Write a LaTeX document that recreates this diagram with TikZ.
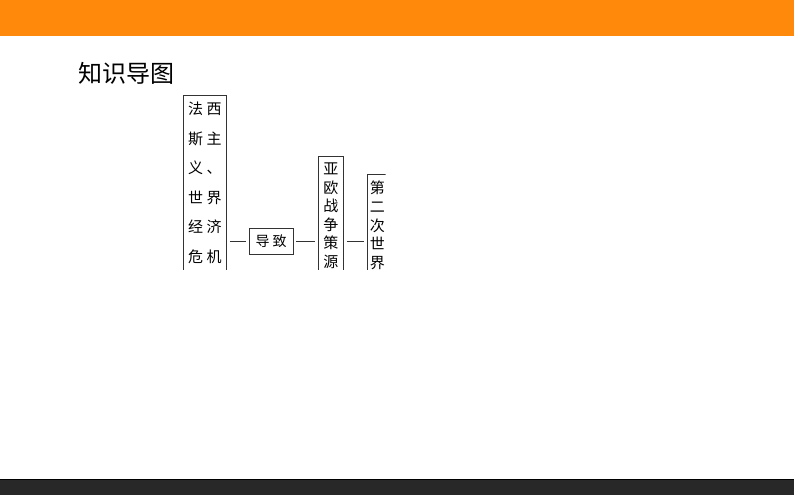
\documentclass[tikz,border=0pt]{standalone}
\usepackage{fontspec}
\newfontfamily\cjk{Noto Sans CJK SC}
\newfontfamily\cjkbox{Noto Sans CJK SC}
\definecolor{barorange}{RGB}{255,137,10}
\definecolor{bardark}{RGB}{40,40,40}
\tikzset{
    mapbox/.style={draw=black!80, line width=0.8pt, inner ysep=6.5pt, inner xsep=0pt,
        align=center, anchor=north west, text depth=150pt},
    link/.style={draw=black!80, line width=0.8pt, shorten <=3pt, shorten >=3pt}
}
\begin{document}
\begin{tikzpicture}[x=1pt, y=-1pt]
    \useasboundingbox (0,0) rectangle (794,495);
    % Top and bottom bars
    \fill[barorange] (0,0) rectangle (794,36);
    \fill[bardark] (0,479) rectangle (794,495);
    \draw[black, line width=0.8pt] (0,479.4) -- (794,479.4);

    % Title
    \node[anchor=base west, inner sep=0pt, font=\cjk\fontsize{24}{24}\selectfont] (title) at (78,82) {知识导图};

    % Boxes (cut off at the bottom of the map)
    \begin{scope}
        \clip (0,90) rectangle (385.5,269);
        \node[mapbox, minimum width=43pt, font=\cjkbox\fontsize{15}{29.5}\selectfont] (crisis) at (183,95)
            {法\kern3.5pt 西\\斯\kern3.5pt 主\\义\kern3.5pt 、\\世\kern3.5pt 界\\经\kern3.5pt 济\\危\kern3.5pt 机};
        \node[draw=black!80, line width=0.8pt, minimum width=44pt, minimum height=26pt, inner sep=0pt,
            font=\cjkbox\fontsize{14}{14}\selectfont] (lead) at (271,241) {导\kern3pt 致};
        \node[mapbox, minimum width=25pt, font=\cjkbox\fontsize{15}{18.5}\selectfont] (source) at (318,156)
            {亚\\欧\\战\\争\\策\\源};
        \node[mapbox, minimum width=20pt, font=\cjkbox\fontsize{15}{18.8}\selectfont] (war) at (367,174)
            {第\\二\\次\\世\\界};

        % Connectors
        \draw[link] (crisis.east |- lead.west) -- (lead.west);
        \draw[link] (lead.east) -- (source.west |- lead.east);
        \draw[link] (source.east |- lead.east) -- (war.west |- lead.east);
    \end{scope}
\end{tikzpicture}
\end{document}
